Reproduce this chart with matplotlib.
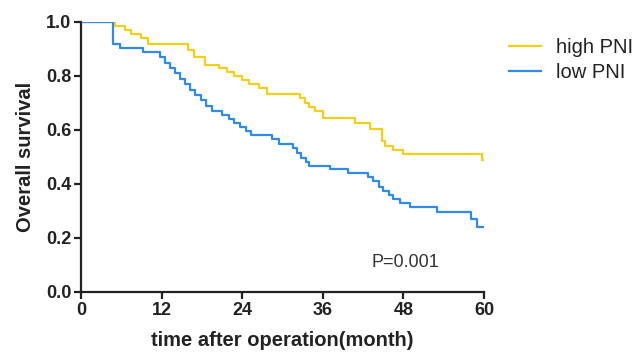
import matplotlib
matplotlib.use("Agg")
import matplotlib.pyplot as plt

plt.rcParams['font.family'] = ['Liberation Sans', 'DejaVu Sans']

# Kaplan-Meier step data (time in months, survival after event)
high_t = [0, 5, 6.5, 7.5, 9, 10, 16, 16.8, 18.5, 20.5, 21.7, 22.8, 24, 25, 26.5, 27.7,
          32.6, 33.3, 34, 34.8, 36, 40.8, 43, 44.8, 45.3, 46.5, 48, 59.7, 60]
high_s = [1.0, 0.985, 0.97, 0.955, 0.94, 0.92, 0.895, 0.87, 0.84, 0.83, 0.815, 0.80, 0.785, 0.77, 0.755, 0.735,
          0.72, 0.70, 0.685, 0.67, 0.645, 0.625, 0.605, 0.56, 0.54, 0.525, 0.51, 0.49, 0.49]

low_t = [0, 4.8, 5.8, 9.2, 11.8, 12.5, 13.3, 14, 14.8, 15.5, 16.3, 17, 17.8, 18.6, 19.5,
         21, 22, 22.8, 23.6, 24.5, 25.3, 28.5, 29.5, 31.5, 32.2, 32.8, 33.5, 34, 37, 39.7,
         42.7, 43.5, 44.3, 45, 45.8, 46.5, 47.5, 49, 53, 58, 59, 60]
low_s = [1.0, 0.92, 0.905, 0.89, 0.87, 0.85, 0.83, 0.81, 0.79, 0.77, 0.75, 0.73, 0.71, 0.69, 0.67,
         0.655, 0.64, 0.625, 0.61, 0.595, 0.58, 0.565, 0.55, 0.535, 0.515, 0.495, 0.48, 0.468, 0.455, 0.44,
         0.425, 0.41, 0.39, 0.375, 0.36, 0.345, 0.33, 0.315, 0.295, 0.27, 0.24, 0.24]

x_ticks = [0, 12, 24, 36, 48, 60]
y_ticks = [0.0, 0.2, 0.4, 0.6, 0.8, 1.0]
y_ticklabels = ['0.0', '0.2', '0.4', '0.6', '0.8', '1.0']

W, H = 641, 354
fig = plt.figure(figsize=(W / 100, H / 100), dpi=100)
ax = fig.add_axes([81 / W, 1 - 292 / H, 403 / W, 270 / H])

ax.plot(high_t, high_s, drawstyle='steps-post', color='#F2CF1A', lw=1.6, label='high PNI')
ax.plot(low_t, low_s, drawstyle='steps-post', color='#2E8BEA', lw=1.6, label='low PNI')

ax.set_xlim(0, 60)
ax.set_ylim(0, 1.0)
ax.set_xticks(x_ticks)
ax.set_yticks(y_ticks)
ax.set_yticklabels(y_ticklabels)

for s in ['top', 'right']:
    ax.spines[s].set_visible(False)
for s in ['left', 'bottom']:
    ax.spines[s].set_linewidth(1.6)
    ax.spines[s].set_color('#222222')
ax.tick_params(axis='both', direction='out', length=5, width=1.6, color='#222222',
               labelsize=13, labelcolor='#222222', pad=2)
for lbl in ax.get_xticklabels() + ax.get_yticklabels():
    lbl.set_fontweight('bold')

ax.set_xlabel('time after operation(month)', fontsize=14.5, fontweight='bold', color='#222222', labelpad=9)
ax.set_ylabel('Overall survival', fontsize=14.5, fontweight='bold', color='#222222', labelpad=8)

ax.text(43.3, 0.11, 'P=0.001', fontsize=13, color='#333333', va='center', ha='left')

leg = fig.legend(loc='upper left', bbox_to_anchor=(491 / W, 1 - 20 / H), frameon=False,
                 fontsize=14.5, handlelength=1.6, labelspacing=0.3, handletextpad=0.75,
                 borderpad=0.4)
for t in leg.get_texts():
    t.set_color('#222222')

fig.savefig('out.png', dpi=100)
